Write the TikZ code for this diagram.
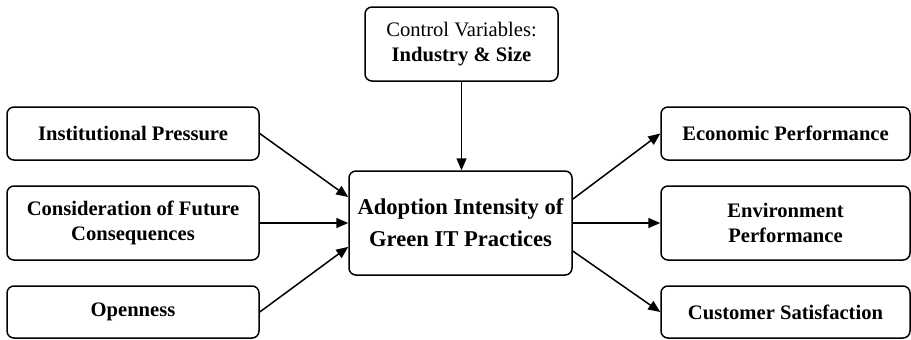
\documentclass[tikz,border=0pt]{standalone}
\usepackage{fontspec}
\setmainfont{Liberation Serif}
\usetikzlibrary{arrows.meta}
\tikzset{
  box/.style={draw, rounded corners=3.5pt, line width=0.75pt, align=center, inner sep=0pt,
    font=\fontsize{10.3}{12.5}\selectfont\bfseries},
  link/.style={-{Triangle[length=6pt,width=5pt]}, line width=0.75pt}
}
\begin{document}
\begin{tikzpicture}[x=0.5pt, y=-0.5pt]
\useasboundingbox (0,0) rectangle (911,339);
% antecedents
\node [box, minimum width=126pt, minimum height=26.5pt] (inst) at (133,133.5) {Institutional Pressure};
\node [box, minimum width=126pt, minimum height=37pt] (cfc) at (133,223) {Consideration of Future\\Consequences};
\node [box, minimum width=126pt, minimum height=26pt] (open) at (133,312) {Openness};
% controls and focal construct
\node [box, minimum width=96.5pt, minimum height=37pt] (ctrl) at (461.5,44) {\mdseries Control Variables:\\Industry \& Size};
\node [box, minimum width=111.5pt, minimum height=52pt, font=\fontsize{11.3}{16}\selectfont\bfseries] (aig) at (460.5,223) {Adoption Intensity of\\Green IT Practices};
% outcomes
\node [box, minimum width=124.5pt, minimum height=26.5pt] (econ) at (785.5,133.5) {Economic Performance};
\node [box, minimum width=124.5pt, minimum height=37pt] (env) at (785.5,223) {Environment\\Performance};
\node [box, minimum width=124.5pt, minimum height=26pt] (cust) at (785.5,312) {Customer Satisfaction};
% paths
\draw [link] (inst.east) -- (aig.167);
\draw [link] (cfc.east) -- (aig.west);
\draw [link] (open.east) -- (aig.192);
\draw [link] (ctrl.south) -- (ctrl.south |- aig.north);
\draw [link] (aig.12) -- (econ.west);
\draw [link] (aig.west -| aig.east) -- (env.west);
\draw [link] (aig.-14) -- (cust.west);
\end{tikzpicture}
\end{document}
